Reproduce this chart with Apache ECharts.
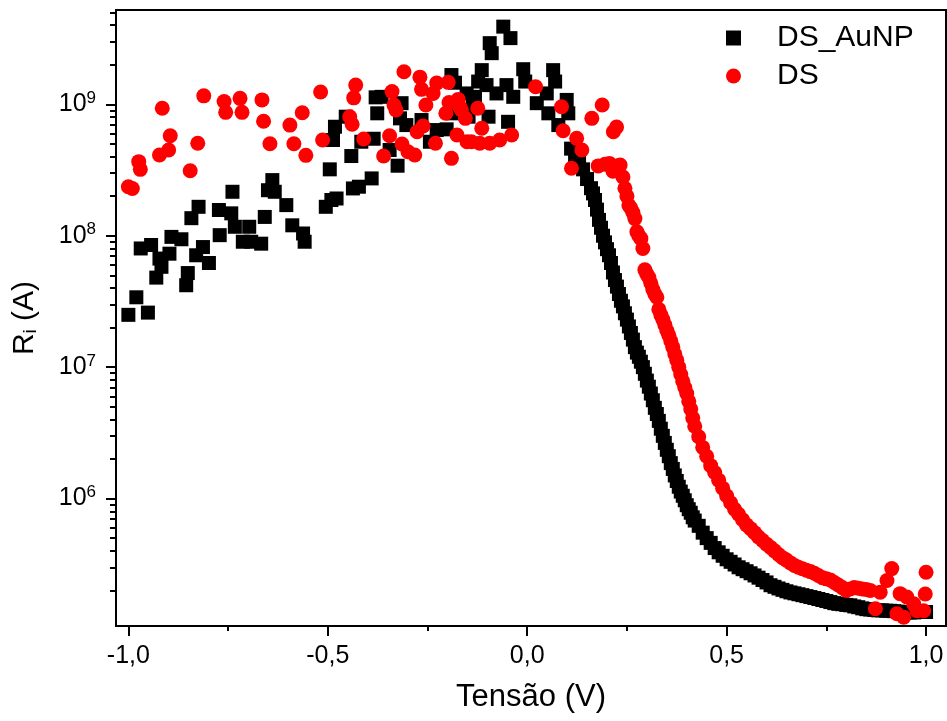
<!DOCTYPE html>
<html>
<head>
<meta charset="utf-8">
<script src="https://cdn.jsdelivr.net/npm/echarts@6/dist/echarts.min.js"></script>
<style>
  html, body { margin: 0; padding: 0; background: #ffffff; }
  #chart { width: 947px; height: 721px; }
</style>
</head>
<body>
<div id="chart"></div>
<script>
// DS_AuNP: voltage (V) and R_i
const voltageAuNP = [
  -1.000, -0.980, -0.969, -0.951, -0.943, -0.930, -0.922, -0.917, -0.897, -0.892,
  -0.867, -0.855, -0.851, -0.842, -0.830, -0.824, -0.813, -0.798, -0.773, -0.771,
  -0.742, -0.739, -0.733, -0.713, -0.697, -0.692, -0.667, -0.658, -0.650, -0.639,
  -0.633, -0.604, -0.589, -0.562, -0.558, -0.505, -0.495, -0.491, -0.487, -0.482,
  -0.478, -0.455, -0.441, -0.437, -0.422, -0.416, -0.390, -0.385, -0.380, -0.376,
  -0.365, -0.345, -0.325, -0.319, -0.315, -0.303, -0.265, -0.244, -0.227, -0.202,
  -0.190, -0.186, -0.181, -0.152, -0.147, -0.136, -0.131, -0.123, -0.114, -0.102,
  -0.097, -0.094, -0.089, -0.077, -0.060, -0.052, -0.048, -0.042, -0.035, -0.010,
  -0.005, 0.024, 0.049, 0.053, 0.065, 0.070, 0.078, 0.099, 0.103,
  0.110, 0.120, 0.130, 0.140, 0.150, 0.160, 0.165, 0.170, 0.175, 0.180,
  0.185, 0.190, 0.195, 0.200, 0.205, 0.210, 0.215, 0.220, 0.225, 0.230,
  0.235, 0.240, 0.245, 0.250, 0.255, 0.260, 0.265, 0.270, 0.275, 0.280,
  0.285, 0.290, 0.295, 0.300, 0.305, 0.310, 0.315, 0.320, 0.325, 0.330,
  0.335, 0.340, 0.345, 0.350, 0.355, 0.360, 0.365, 0.370, 0.375, 0.380,
  0.385, 0.390, 0.395, 0.400, 0.405, 0.410, 0.415, 0.420,
  0.43, 0.44, 0.45, 0.46, 0.47, 0.48, 0.49, 0.50,
  0.51, 0.52, 0.53, 0.54, 0.55, 0.56, 0.57, 0.58, 0.59, 0.60,
  0.61, 0.62, 0.63, 0.64, 0.65, 0.66, 0.67, 0.68, 0.69, 0.70,
  0.71, 0.72, 0.73, 0.74, 0.75, 0.76, 0.77, 0.78, 0.79, 0.80,
  0.81, 0.82, 0.83, 0.84, 0.85, 0.86, 0.87, 0.88, 0.89, 0.90,
  0.91, 0.92, 0.93, 0.94, 0.95, 0.96, 0.97, 0.98, 0.99, 1.00
];
const riAuNP = [
  2.5e7, 3.4e7, 8.0e7, 2.6e7, 8.5e7, 4.8e7, 6.7e7, 5.8e7, 7.3e7, 9.8e7,
  9.4e7, 4.2e7, 5.2e7, 1.36e8, 7.1e7, 1.66e8, 8.2e7, 6.2e7, 1.57e8, 1.01e8,
  1.48e8, 2.16e8, 1.17e8, 9.0e7, 1.17e8, 9.0e7, 8.7e7, 1.39e8, 2.22e8, 2.65e8,
  2.16e8, 1.71e8, 1.2e8, 1.04e8, 9.0e7, 1.66e8, 3.2e8, 1.87e8, 5.35e8, 6.75e8,
  1.92e8, 8.05e8, 4.04e8, 2.29e8, 2.36e8, 5.19e8, 2.73e8, 5.47e8, 1.13e9, 8.54e8,
  1.14e9, 4.49e8, 3.41e8, 7.82e8, 1.02e9, 6.95e8, 7.59e8, 5.19e8, 6.37e8, 6.45e8,
  1.67e9, 8.54e8, 1.46e9, 1.21e9, 8.05e8, 9.59e8, 1.14e9, 1.49e9, 1.82e9, 1.40e9,
  8.05e8, 2.92e9, 2.45e9, 1.21e9, 3.9e9, 1.40e9, 7.36e8, 3.19e9, 1.14e9, 1.85e9,
  1.49e9, 1.02e9, 1.21e9, 8.54e8, 1.82e9, 1.49e9, 6.95e8, 1.08e9, 8.54e8,
  4.6e8, 4.0e8, 3.6e8, 3.2e8, 2.7e8, 2.3e8, 2.1e8, 1.87e8, 1.58e8, 1.32e8,
  1.15e8, 1.0e8, 8.9e7, 7.9e7, 7.1e7, 6.2e7, 5.25e7, 4.6e7, 4.1e7, 3.6e7,
  3.2e7, 2.9e7, 2.57e7, 2.3e7, 2.04e7, 1.82e7, 1.62e7, 1.42e7, 1.29e7, 1.2e7,
  1.1e7, 1.0e7, 8.9e6, 7.9e6, 7.1e6, 6.3e6, 5.6e6, 4.9e6, 4.4e6, 3.9e6,
  3.4e6, 3.0e6, 2.65e6, 2.35e6, 2.1e6, 1.86e6, 1.68e6, 1.5e6, 1.36e6, 1.23e6,
  1.13e6, 1.05e6, 9.7e5, 8.9e5, 8.3e5, 7.8e5, 7.2e5, 6.8e5,
  6.2e5, 5.5e5, 5.0e5, 4.6e5, 4.2e5, 3.9e5, 3.67e5, 3.45e5,
  3.3e5, 3.15e5, 3.0e5, 2.9e5, 2.8e5, 2.7e5, 2.6e5, 2.5e5, 2.4e5, 2.3e5,
  2.19e5, 2.13e5, 2.07e5, 2.02e5, 1.97e5, 1.93e5, 1.9e5, 1.87e5, 1.84e5, 1.81e5,
  1.78e5, 1.75e5, 1.72e5, 1.69e5, 1.66e5, 1.63e5, 1.6e5, 1.58e5, 1.57e5, 1.55e5,
  1.54e5, 1.51e5, 1.49e5, 1.46e5, 1.44e5, 1.43e5, 1.42e5, 1.41e5, 1.41e5, 1.40e5,
  1.40e5, 1.39e5, 1.38e5, 1.37e5, 1.36e5, 1.36e5, 1.36e5, 1.37e5, 1.37e5, 1.37e5
];

// DS: voltage (V) and R_i
const voltageDS = [
  -1.000, -0.990, -0.974, -0.970, -0.922, -0.915, -0.899, -0.895, -0.845, -0.826,
  -0.811, -0.760, -0.756, -0.720, -0.715, -0.665, -0.661, -0.645, -0.595, -0.585,
  -0.564, -0.555, -0.518, -0.513, -0.445, -0.439, -0.435, -0.430, -0.410, -0.360,
  -0.345, -0.339, -0.334, -0.329, -0.314, -0.309, -0.299, -0.282, -0.276, -0.269,
  -0.265, -0.261, -0.254, -0.236, -0.230, -0.227, -0.204, -0.198, -0.196, -0.190,
  -0.176, -0.173, -0.169, -0.165, -0.155, -0.151, -0.140, -0.124, -0.119, -0.114,
  -0.094, -0.069, -0.039, 0.021, 0.086, 0.090, 0.111, 0.124, 0.137, 0.162,
  0.188, 0.216, 0.224,
  0.178, 0.195, 0.206, 0.215, 0.225, 0.233, 0.240, 0.245, 0.250, 0.255,
  0.260, 0.265, 0.270, 0.275, 0.280, 0.285, 0.290, 0.295, 0.300, 0.305,
  0.310, 0.315, 0.320, 0.325, 0.330, 0.335, 0.340, 0.345, 0.350, 0.355,
  0.360, 0.365, 0.370, 0.375, 0.380, 0.385, 0.390, 0.395, 0.400, 0.405,
  0.410, 0.415, 0.420, 0.43, 0.44, 0.45, 0.46, 0.47, 0.48, 0.49,
  0.50, 0.51, 0.52, 0.53, 0.54, 0.55, 0.56, 0.57, 0.58, 0.59,
  0.60, 0.61, 0.62, 0.63, 0.64, 0.65, 0.66, 0.67, 0.68, 0.69,
  0.70, 0.71, 0.72, 0.73, 0.74, 0.75, 0.76, 0.77, 0.78, 0.79,
  0.80, 0.81, 0.82, 0.83, 0.84, 0.85, 0.86, 0.873, 0.885, 0.902,
  0.914, 0.927, 0.935, 0.944, 0.952, 0.969, 0.977, 0.994, 0.998, 1.000
];
const riDS = [
  2.36e8, 2.29e8, 3.66e8, 3.2e8, 4.11e8, 9.33e8, 4.49e8, 5.77e8, 3.12e8, 5.05e8,
  1.16e9, 1.05e9, 8.69e8, 1.11e9, 8.69e8, 1.08e9, 7.43e8, 5.01e8, 6.95e8, 5.01e8,
  8.63e8, 4.09e8, 1.24e9, 5.35e8, 8.05e8, 7.05e8, 1.12e9, 1.40e9, 5.45e8, 4.04e8,
  5.77e8, 1.25e9, 9.88e8, 9.06e8, 4.99e8, 1.77e9, 4.36e8, 4.11e8, 6.18e8, 1.61e9,
  1.30e9, 6.84e8, 9.88e8, 1.21e9, 5.05e8, 1.45e9, 8.54e8, 1.47e9, 1.03e9, 3.88e8,
  5.84e8, 1.09e9, 9.59e8, 9.06e8, 7.82e8, 5.19e8, 5.19e8, 9.33e8, 5.05e8, 6.57e8,
  5.05e8, 5.35e8, 5.84e8, 1.36e9, 9.59e8, 6.3e8, 3.26e8, 5.51e8, 4.49e8, 7.82e8,
  9.88e8, 6.18e8, 6.71e8,
  3.4e8, 3.5e8, 3.55e8, 3.1e8, 3.4e8, 3.45e8, 2.8e8, 2.3e8, 2.0e8, 1.7e8,
  1.62e8, 1.5e8, 1.35e8, 1.07e8, 1.0e8, 9.5e7, 8.0e7, 5.5e7, 5.1e7, 4.8e7,
  4.35e7, 3.9e7, 3.6e7, 3.4e7, 2.75e7, 2.5e7, 2.3e7, 2.1e7, 1.9e7, 1.75e7,
  1.58e7, 1.42e7, 1.26e7, 1.13e7, 1.0e7, 8.8e6, 7.8e6, 7.0e6, 6.3e6, 5.5e6,
  4.8e6, 4.1e6, 3.55e6, 2.95e6, 2.45e6, 2.1e6, 1.78e6, 1.58e6, 1.38e6, 1.2e6,
  1.05e6, 9.3e5, 8.3e5, 7.6e5, 6.9e5, 6.3e5, 5.9e5, 5.5e5, 5.1e5, 4.8e5,
  4.5e5, 4.25e5, 4.0e5, 3.75e5, 3.55e5, 3.4e5, 3.24e5, 3.1e5, 3.0e5, 2.92e5,
  2.85e5, 2.78e5, 2.7e5, 2.6e5, 2.5e5, 2.45e5, 2.4e5, 2.3e5, 2.2e5, 2.1e5,
  2.0e5, 2.05e5, 2.1e5, 2.08e5, 2.05e5, 2.03e5, 2.0e5, 1.45e5, 1.94e5, 2.38e5,
  2.93e5, 1.33e5, 1.89e5, 1.25e5, 1.78e5, 1.58e5, 1.4e5, 1.4e5, 1.88e5, 2.75e5
];

// Axis ticks and labels
const xMajorTicks = [-1.0, -0.5, 0.0, 0.5, 1.0];
const xMinorTicks = [-0.75, -0.25, 0.25, 0.75];
const yMajorTicks = [1e6, 1e7, 1e8, 1e9];
const seriesNames = ['DS_AuNP', 'DS'];

const X_MIN = -1.031, X_MAX = 1.050;
const Y_MIN = 1.072e5, Y_MAX = 5.22e9;

// minor log ticks: 2..9 of every decade inside the range
const yMinorTicks = [];
for (let e = 5; e <= 9; e++) {
  for (let m = 2; m <= 9; m++) {
    const v = m * Math.pow(10, e);
    if (v > Y_MIN && v < Y_MAX) yMinorTicks.push(v);
  }
}

const FONT = '"Liberation Sans", Arial, sans-serif';
const zip = (xs, ys) => xs.map((x, i) => [x, ys[i]]);

const chart = echarts.init(document.getElementById('chart'), null, { renderer: 'canvas' });

chart.setOption({
  animation: false,
  backgroundColor: '#ffffff',
  textStyle: { fontFamily: FONT, color: '#000' },
  grid: {
    left: 116, top: 10, right: 1, bottom: 95,
    show: true, borderColor: '#000', borderWidth: 2, backgroundColor: 'transparent'
  },
  legend: {
    data: seriesNames,
    orient: 'vertical',
    left: 721, top: 18,
    itemWidth: 15, itemHeight: 15, itemGap: 8,
    textStyle: { fontFamily: FONT, fontSize: 30, color: '#000', lineHeight: 30, padding: [0, 0, 0, 31] }
  },
  xAxis: [
    {
      type: 'value', min: X_MIN, max: X_MAX, position: 'bottom',
      name: 'Tensão (V)', nameLocation: 'middle', nameGap: 56,
      nameTextStyle: { fontFamily: FONT, fontSize: 31, color: '#000' },
      axisLine: { show: true, onZero: false, lineStyle: { color: '#000', width: 2 } },
      axisTick: { show: true, customValues: xMajorTicks, length: 10, lineStyle: { color: '#000', width: 2 } },
      axisLabel: {
        show: true, customValues: xMajorTicks, margin: 18,
        fontFamily: FONT, fontSize: 25, color: '#000',
        formatter: v => v.toFixed(1).replace('.', ',')
      },
      splitLine: { show: false }
    },
    {
      type: 'value', min: X_MIN, max: X_MAX, position: 'bottom',
      axisLine: { show: false, onZero: false },
      axisTick: { show: true, customValues: xMinorTicks, length: 5, lineStyle: { color: '#000', width: 2 } },
      axisLabel: { show: false },
      splitLine: { show: false }
    }
  ],
  yAxis: [
    {
      type: 'log', logBase: 10, min: Y_MIN, max: Y_MAX, position: 'left',
      name: 'R{sub|i} (A)', nameLocation: 'middle', nameGap: 76, nameRotate: 90,
      nameTextStyle: {
        fontFamily: FONT, fontSize: 30, color: '#000',
        rich: { sub: { fontFamily: FONT, fontSize: 19, color: '#000', padding: [12, 0, 0, 0] } }
      },
      axisLine: { show: true, onZero: false, lineStyle: { color: '#000', width: 2 } },
      axisTick: { show: true, customValues: yMajorTicks, length: 10, lineStyle: { color: '#000', width: 2 } },
      axisLabel: {
        show: true, customValues: yMajorTicks, margin: 20,
        fontFamily: FONT, fontSize: 25, color: '#000',
        formatter: v => '10{sup|' + Math.round(Math.log10(v)) + '}',
        rich: { sup: { fontFamily: FONT, fontSize: 17, color: '#000', padding: [0, 0, 12, 0] } }
      },
      splitLine: { show: false }
    },
    {
      type: 'log', logBase: 10, min: Y_MIN, max: Y_MAX, position: 'left',
      axisLine: { show: false, onZero: false },
      axisTick: { show: true, customValues: yMinorTicks, length: 6, lineStyle: { color: '#000', width: 2 } },
      axisLabel: { show: false },
      splitLine: { show: false }
    }
  ],
  series: [
    {
      name: seriesNames[0], type: 'scatter', xAxisIndex: 0, yAxisIndex: 0,
      symbol: 'rect', symbolSize: 14,
      itemStyle: { color: '#000000', opacity: 1 },
      data: zip(voltageAuNP, riAuNP)
    },
    {
      name: seriesNames[1], type: 'scatter', xAxisIndex: 0, yAxisIndex: 0,
      symbol: 'circle', symbolSize: 15,
      itemStyle: { color: '#ff0000', opacity: 1 },
      data: zip(voltageDS, riDS)
    }
  ]
});
</script>
</body>
</html>
